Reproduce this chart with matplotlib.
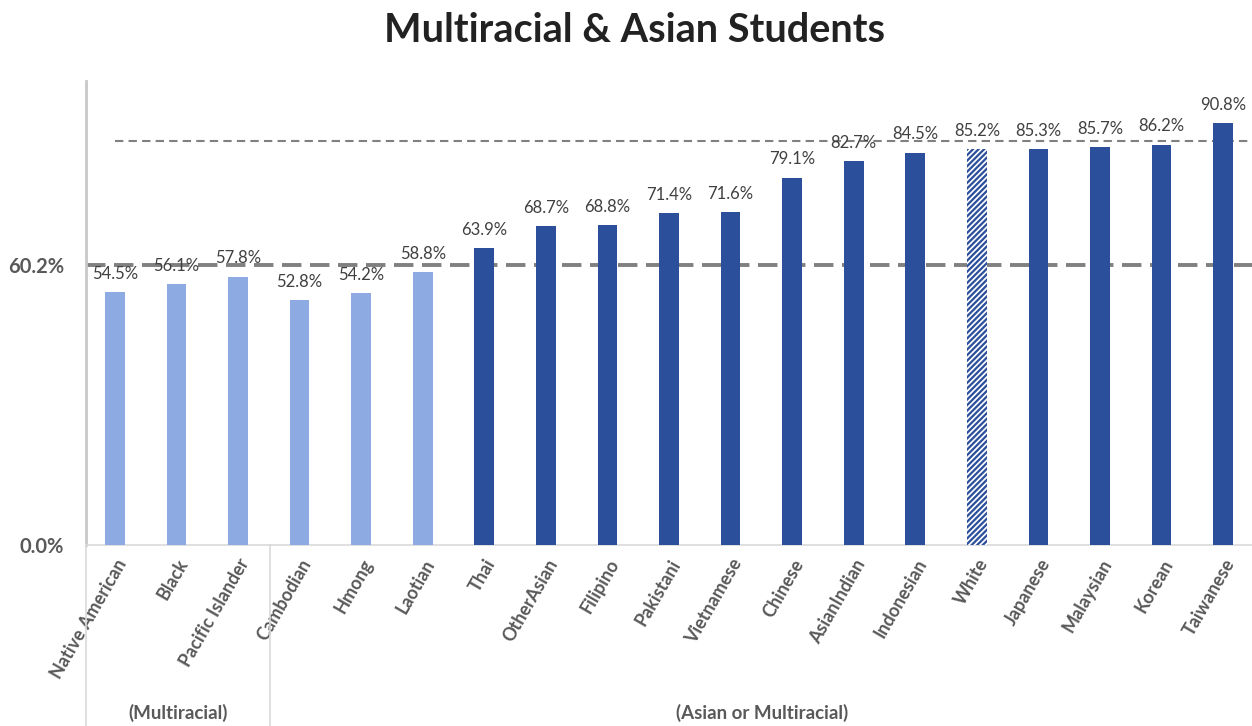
import matplotlib.pyplot as plt
from matplotlib.lines import Line2D

groups = ['Native American', 'Black', 'Pacific Islander', 'Cambodian', 'Hmong',
          'Laotian', 'Thai', 'OtherAsian', 'Filipino', 'Pakistani', 'Vietnamese',
          'Chinese', 'AsianIndian', 'Indonesian', 'White', 'Japanese', 'Malaysian',
          'Korean', 'Taiwanese']
rates = [54.5, 56.1, 57.8, 52.8, 54.2, 58.8, 63.9, 68.7, 68.8, 71.4, 71.6,
         79.1, 82.7, 84.5, 85.2, 85.3, 85.7, 86.2, 90.8]
overall = 60.2
upper_ref = 86.9

LIGHT = '#8eaae2'
DARK = '#2c4f9c'
GRID = '#c8c8c8'
TXT = '#595959'

plt.rcParams['font.family'] = ['Lato', 'DejaVu Sans']
plt.rcParams['hatch.color'] = DARK
plt.rcParams['hatch.linewidth'] = 1.6

fig = plt.figure(figsize=(12.52, 7.26), dpi=100)
ax = fig.add_axes([0.0687, 0.2493, 0.9313, 0.6397])

x = list(range(len(groups)))
for i, (g, v) in enumerate(zip(groups, rates)):
    if g == 'White':
        ax.bar(i, v, width=0.32, color='white', edgecolor=DARK, hatch='//////',
               linewidth=0, zorder=3)
    else:
        ax.bar(i, v, width=0.32, color=LIGHT if v < overall else DARK, zorder=3)
    ax.text(i, v + 2.2, f'{v:.1f}%', ha='center', va='bottom', fontsize=12,
            color='#404040', zorder=4)

ax.axhline(overall, color='#808080', lw=2.8, ls=(0, (5, 2.2)), zorder=2)
ax.plot([0, 18.6], [upper_ref, upper_ref], color='#808080', lw=1.5,
        ls=(0, (4, 2.5)), zorder=2, clip_on=False)

ax.set_xlim(-0.47, 18.47)
ax.set_ylim(0, 100)
ax.set_yticks([0, overall])
ax.set_yticklabels(['0.0%', f'{overall}%'], fontsize=14.5, fontweight='bold', color=TXT)
ax.set_xticks(x)
ax.set_xticklabels(groups, rotation=60, ha='right', rotation_mode='anchor',
                   fontsize=13, color=TXT, fontweight='bold')
ax.tick_params(axis='both', length=0)
ax.tick_params(axis='x', pad=8)
ax.tick_params(axis='y', pad=16)

for s in ['top', 'right']:
    ax.spines[s].set_visible(False)
ax.spines['left'].set_color(GRID)
ax.spines['left'].set_linewidth(2)
ax.spines['bottom'].set_color('#d9d9d9')
ax.spines['bottom'].set_linewidth(1.2)

# group dividers below the axis
for xf in [0.0687, 270 / 1252]:
    fig.add_artist(Line2D([xf, xf], [0, 0.2493], color='#d9d9d9', lw=1.2))
fig.text(178 / 1252, 13 / 726, '(Multiracial)', ha='center', va='center',
         fontsize=13.5, fontweight='bold', color=TXT)
fig.text(762 / 1252, 13 / 726, '(Asian or Multiracial)', ha='center', va='center',
         fontsize=13.5, fontweight='bold', color=TXT)

fig.text(0.507, 0.958, 'Multiracial & Asian Students', ha='center', va='center',
         fontsize=28.5, fontweight='bold', color='#222222')

fig.savefig('out.png', dpi=100)
